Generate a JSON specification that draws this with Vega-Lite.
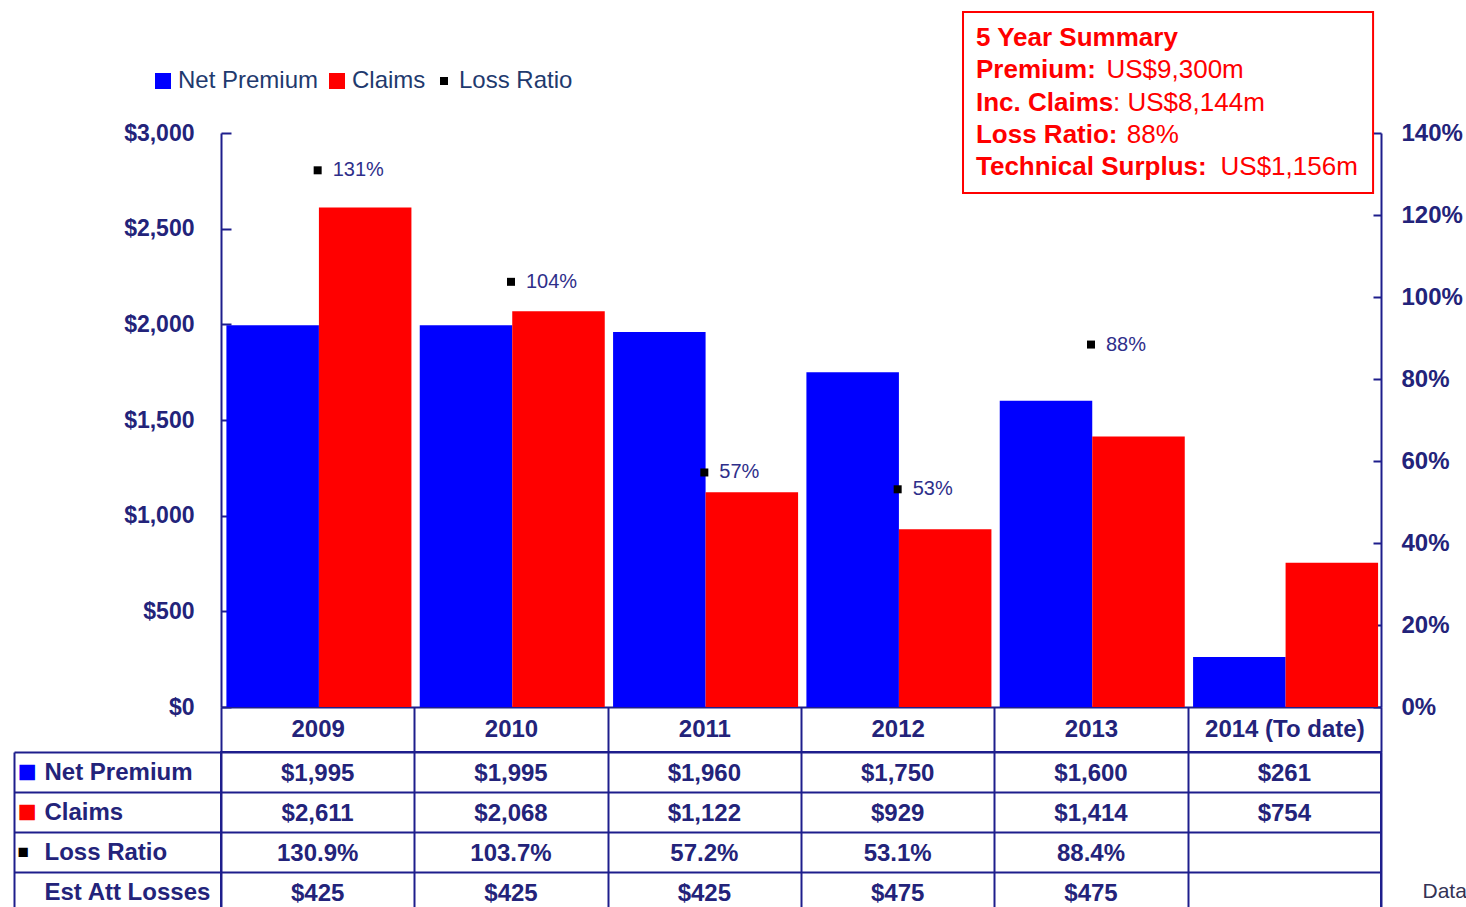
{
  "$schema": "https://vega.github.io/schema/vega-lite/v6.json",
  "padding": {"left": 12, "top": 11, "right": 0, "bottom": 0},
  "background": "white",
  "spacing": 45,
  "bounds": "flush",
  "config": {"font": "Liberation Sans", "view": {"stroke": null}},
  "vconcat": [
    {
      "width": 1160,
      "height": 574,
      "layer": [
        {
          "data": {"values": [
            {"year": "2009", "series": "Net Premium", "value": 1995},
            {"year": "2009", "series": "Claims", "value": 2611},
            {"year": "2010", "series": "Net Premium", "value": 1995},
            {"year": "2010", "series": "Claims", "value": 2068},
            {"year": "2011", "series": "Net Premium", "value": 1960},
            {"year": "2011", "series": "Claims", "value": 1122},
            {"year": "2012", "series": "Net Premium", "value": 1750},
            {"year": "2012", "series": "Claims", "value": 929},
            {"year": "2013", "series": "Net Premium", "value": 1600},
            {"year": "2013", "series": "Claims", "value": 1414},
            {"year": "2014 (To date)", "series": "Net Premium", "value": 261},
            {"year": "2014 (To date)", "series": "Claims", "value": 754}
          ]},
          "mark": {"type": "bar"},
          "encoding": {
            "x": {"field": "year", "type": "nominal", "sort": null,
              "scale": {"domain": ["2009", "2010", "2011", "2012", "2013", "2014 (To date)"], "paddingInner": 0, "paddingOuter": 0},
              "axis": {"orient": "bottom", "title": null, "labelAngle": 0, "grid": false,
                "domainColor": "#1E1E8C", "domainWidth": 2,
                "tickBand": "extent", "tickSize": 45, "tickColor": "#1E1E8C", "tickWidth": 2,
                "labelPadding": -23, "labelBaseline": "middle", "labelFontSize": 24, "labelFontWeight": "bold", "labelColor": "#23237A"}},
            "xOffset": {"field": "series", "type": "nominal",
              "scale": {"domain": ["Net Premium", "Claims"], "paddingInner": 0, "paddingOuter": 0.045, "align": 0.65}},
            "y": {"field": "value", "type": "quantitative",
              "scale": {"domain": [0, 3000]},
              "axis": {"orient": "left", "title": null, "grid": false, "values": [0, 500, 1000, 1500, 2000, 2500, 3000], "format": "$,.0f",
                "domainColor": "#1E1E8C", "domainWidth": 2, "tickColor": "#1E1E8C", "tickWidth": 2, "tickSize": -10,
                "labelPadding": 37, "labelFontSize": 23, "labelFontWeight": "bold", "labelColor": "#23237A"}},
            "color": {"field": "series", "type": "nominal",
              "scale": {"domain": ["Net Premium", "Claims", "Loss Ratio"], "range": ["#0000FF", "#FF0000", "#000000"]},
              "legend": {"orient": "none", "legendX": -70, "legendY": -64, "direction": "horizontal", "title": null,
                "symbolType": "square", "symbolSize": 256, "symbolStrokeWidth": 0,
                "labelFontSize": 24, "labelColor": "#1F3A6E", "labelOffset": 3, "columnPadding": 6,
                "encode": {"symbols": {"update": {"size": {"signal": "datum.value === 'Loss Ratio' ? 64 : 256"}}}}}}
          }
        },
        {
          "data": {"values": [
            {"year": "2009", "series": "Loss Ratio", "ratio": 1.309},
            {"year": "2010", "series": "Loss Ratio", "ratio": 1.037},
            {"year": "2011", "series": "Loss Ratio", "ratio": 0.572},
            {"year": "2012", "series": "Loss Ratio", "ratio": 0.531},
            {"year": "2013", "series": "Loss Ratio", "ratio": 0.884}
          ]},
          "mark": {"type": "square", "size": 64, "opacity": 1},
          "encoding": {
            "x": {"field": "year", "type": "nominal", "sort": null,
              "scale": {"domain": ["2009", "2010", "2011", "2012", "2013", "2014 (To date)"], "paddingInner": 0, "paddingOuter": 0}, "axis": null},
            "y": {"field": "ratio", "type": "quantitative", "scale": {"domain": [0, 1.4]},
              "axis": {"orient": "right", "title": null, "grid": false, "values": [0, 0.2, 0.4, 0.6, 0.8, 1.0, 1.2, 1.4], "format": ".0%",
                "domainColor": "#1E1E8C", "domainWidth": 2, "tickColor": "#1E1E8C", "tickWidth": 2, "tickSize": -8,
                "labelPadding": 28, "labelFontSize": 24, "labelFontWeight": "bold", "labelColor": "#23237A"}},
            "color": {"field": "series", "type": "nominal"}
          }
        },
        {
          "data": {"values": [
            {"year": "2009", "ratio": 1.309},
            {"year": "2010", "ratio": 1.037},
            {"year": "2011", "ratio": 0.572},
            {"year": "2012", "ratio": 0.531},
            {"year": "2013", "ratio": 0.884}
          ]},
          "mark": {"type": "text", "align": "left", "baseline": "middle", "dx": 15, "fontSize": 20, "fill": "#2E2E8A"},
          "encoding": {
            "x": {"field": "year", "type": "nominal", "sort": null,
              "scale": {"domain": ["2009", "2010", "2011", "2012", "2013", "2014 (To date)"], "paddingInner": 0, "paddingOuter": 0}, "axis": null},
            "y": {"field": "ratio", "type": "quantitative", "scale": {"domain": [0, 1.4]}, "axis": null},
            "text": {"field": "ratio", "type": "quantitative", "format": ".0%"}
          }
        },
        {
          "data": {"values": [{}]},
          "mark": {"type": "rect", "fill": "white", "stroke": "#FF0000", "strokeWidth": 2},
          "encoding": {
            "x": {"datum": 3.838, "type": "quantitative", "scale": {"domain": [0, 6]}, "axis": null},
            "x2": {"datum": 5.959},
            "y": {"datum": 3632, "type": "quantitative", "scale": {"domain": [0, 3000]}, "axis": null},
            "y2": {"datum": 2686}
          }
        },
        {
          "data": {"values": [{}]},
          "mark": {"type": "text", "text": "5 Year Summary", "align": "left", "baseline": "middle", "fontSize": 26, "fontWeight": "bold", "fill": "#FF0000"},
          "encoding": {
            "x": {"datum": 3.905, "type": "quantitative", "scale": {"domain": [0, 6]}, "axis": null},
            "y": {"datum": 3497, "type": "quantitative", "scale": {"domain": [0, 3000]}, "axis": null}
          }
        },
        {
          "data": {"values": [{}]},
          "mark": {"type": "text", "text": "Premium:", "align": "left", "baseline": "middle", "fontSize": 26, "fontWeight": "bold", "fill": "#FF0000"},
          "encoding": {
            "x": {"datum": 3.905, "type": "quantitative", "scale": {"domain": [0, 6]}, "axis": null},
            "y": {"datum": 3329, "type": "quantitative", "scale": {"domain": [0, 3000]}, "axis": null}
          }
        },
        {
          "data": {"values": [{}]},
          "mark": {"type": "text", "text": "US$9,300m", "align": "left", "baseline": "middle", "fontSize": 26, "fill": "#FF0000"},
          "encoding": {
            "x": {"datum": 4.58, "type": "quantitative", "scale": {"domain": [0, 6]}, "axis": null},
            "y": {"datum": 3329, "type": "quantitative", "scale": {"domain": [0, 3000]}, "axis": null}
          }
        },
        {
          "data": {"values": [{}]},
          "mark": {"type": "text", "text": "Inc. Claims", "align": "left", "baseline": "middle", "fontSize": 26, "fontWeight": "bold", "fill": "#FF0000"},
          "encoding": {
            "x": {"datum": 3.905, "type": "quantitative", "scale": {"domain": [0, 6]}, "axis": null},
            "y": {"datum": 3157, "type": "quantitative", "scale": {"domain": [0, 3000]}, "axis": null}
          }
        },
        {
          "data": {"values": [{}]},
          "mark": {"type": "text", "text": ": US$8,144m", "align": "left", "baseline": "middle", "fontSize": 26, "fill": "#FF0000"},
          "encoding": {
            "x": {"datum": 4.614, "type": "quantitative", "scale": {"domain": [0, 6]}, "axis": null},
            "y": {"datum": 3157, "type": "quantitative", "scale": {"domain": [0, 3000]}, "axis": null}
          }
        },
        {
          "data": {"values": [{}]},
          "mark": {"type": "text", "text": "Loss Ratio:", "align": "left", "baseline": "middle", "fontSize": 26, "fontWeight": "bold", "fill": "#FF0000"},
          "encoding": {
            "x": {"datum": 3.905, "type": "quantitative", "scale": {"domain": [0, 6]}, "axis": null},
            "y": {"datum": 2990, "type": "quantitative", "scale": {"domain": [0, 3000]}, "axis": null}
          }
        },
        {
          "data": {"values": [{}]},
          "mark": {"type": "text", "text": "88%", "align": "left", "baseline": "middle", "fontSize": 26, "fill": "#FF0000"},
          "encoding": {
            "x": {"datum": 4.685, "type": "quantitative", "scale": {"domain": [0, 6]}, "axis": null},
            "y": {"datum": 2990, "type": "quantitative", "scale": {"domain": [0, 3000]}, "axis": null}
          }
        },
        {
          "data": {"values": [{}]},
          "mark": {"type": "text", "text": "Technical Surplus:", "align": "left", "baseline": "middle", "fontSize": 26, "fontWeight": "bold", "fill": "#FF0000"},
          "encoding": {
            "x": {"datum": 3.905, "type": "quantitative", "scale": {"domain": [0, 6]}, "axis": null},
            "y": {"datum": 2822, "type": "quantitative", "scale": {"domain": [0, 3000]}, "axis": null}
          }
        },
        {
          "data": {"values": [{}]},
          "mark": {"type": "text", "text": "US$1,156m", "align": "left", "baseline": "middle", "fontSize": 26, "fill": "#FF0000"},
          "encoding": {
            "x": {"datum": 5.17, "type": "quantitative", "scale": {"domain": [0, 6]}, "axis": null},
            "y": {"datum": 2822, "type": "quantitative", "scale": {"domain": [0, 3000]}, "axis": null}
          }
        }
      ],
      "resolve": {"scale": {"x": "independent", "y": "independent"}}
    },
    {
      "width": 1160,
      "height": 160,
      "view": {"stroke": "#1E1E8C", "strokeWidth": 2},
      "data": {"values": [
        {"year": "2009", "row": "Net Premium", "text": "$1,995"},
        {"year": "2010", "row": "Net Premium", "text": "$1,995"},
        {"year": "2011", "row": "Net Premium", "text": "$1,960"},
        {"year": "2012", "row": "Net Premium", "text": "$1,750"},
        {"year": "2013", "row": "Net Premium", "text": "$1,600"},
        {"year": "2014 (To date)", "row": "Net Premium", "text": "$261"},
        {"year": "2009", "row": "Claims", "text": "$2,611"},
        {"year": "2010", "row": "Claims", "text": "$2,068"},
        {"year": "2011", "row": "Claims", "text": "$1,122"},
        {"year": "2012", "row": "Claims", "text": "$929"},
        {"year": "2013", "row": "Claims", "text": "$1,414"},
        {"year": "2014 (To date)", "row": "Claims", "text": "$754"},
        {"year": "2009", "row": "Loss Ratio", "text": "130.9%"},
        {"year": "2010", "row": "Loss Ratio", "text": "103.7%"},
        {"year": "2011", "row": "Loss Ratio", "text": "57.2%"},
        {"year": "2012", "row": "Loss Ratio", "text": "53.1%"},
        {"year": "2013", "row": "Loss Ratio", "text": "88.4%"},
        {"year": "2009", "row": "Est Att Losses", "text": "$425"},
        {"year": "2010", "row": "Est Att Losses", "text": "$425"},
        {"year": "2011", "row": "Est Att Losses", "text": "$425"},
        {"year": "2012", "row": "Est Att Losses", "text": "$475"},
        {"year": "2013", "row": "Est Att Losses", "text": "$475"}
      ]},
      "layer": [
        {
          "mark": {"type": "text", "fontSize": 24, "fontWeight": "bold", "fill": "#23237A", "align": "center", "baseline": "middle", "dy": 2},
          "encoding": {
            "x": {"field": "year", "type": "nominal", "sort": null,
              "scale": {"domain": ["2009", "2010", "2011", "2012", "2013", "2014 (To date)"], "paddingInner": 0, "paddingOuter": 0},
              "axis": {"orient": "bottom", "title": null, "grid": true, "gridColor": "#1E1E8C", "gridWidth": 2, "gridOpacity": 1, "tickBand": "extent", "labels": false, "ticks": false, "domain": false}},
            "y": {"field": "row", "type": "nominal", "sort": null,
              "scale": {"domain": ["Net Premium", "Claims", "Loss Ratio", "Est Att Losses"], "paddingInner": 0, "paddingOuter": 0},
              "axis": {"orient": "left", "title": null, "grid": true, "gridColor": "#1E1E8C", "gridWidth": 2, "gridOpacity": 1, "tickBand": "extent",
                "ticks": true, "tickSize": 207, "tickColor": "#1E1E8C", "tickWidth": 2, "domain": false,
                "labelAlign": "left", "labelBaseline": "middle", "labelPadding": -30, "labelFontSize": 24, "labelFontWeight": "bold", "labelColor": "#23237A"}},
            "text": {"field": "text", "type": "nominal"}
          }
        },
        {
          "mark": {"type": "text", "text": ""},
          "encoding": {
            "y": {"field": "row", "type": "nominal", "sort": null,
              "axis": {"orient": "left", "offset": 207, "title": null, "grid": false, "ticks": false,
                "domain": true, "domainColor": "#1E1E8C", "domainWidth": 2,
                "labelAlign": "left", "labelBaseline": "middle", "labelPadding": -3,
                "labelFontSize": {"condition": {"test": "datum.value === 'Loss Ratio'", "value": 19}, "value": 32},
                "labelColor": {"condition": [{"test": "datum.value === 'Net Premium'", "value": "#0000FF"}, {"test": "datum.value === 'Claims'", "value": "#FF0000"}], "value": "#000000"},
                "labelExpr": "datum.value === 'Est Att Losses' ? '' : '■'"}}
          }
        },
        {
          "mark": {"type": "text", "text": ""},
          "encoding": {
            "y": {"field": "row", "type": "nominal", "sort": null,
              "axis": {"orient": "right", "title": null, "grid": false, "ticks": false, "domain": false,
                "labelAlign": "left", "labelBaseline": "middle", "labelPadding": 41, "labelFontSize": 21, "labelColor": "#333355",
                "labelExpr": "datum.value === 'Est Att Losses' ? 'Data' : ''"}}
          }
        }
      ],
      "resolve": {"axis": {"y": "independent"}}
    }
  ]
}
